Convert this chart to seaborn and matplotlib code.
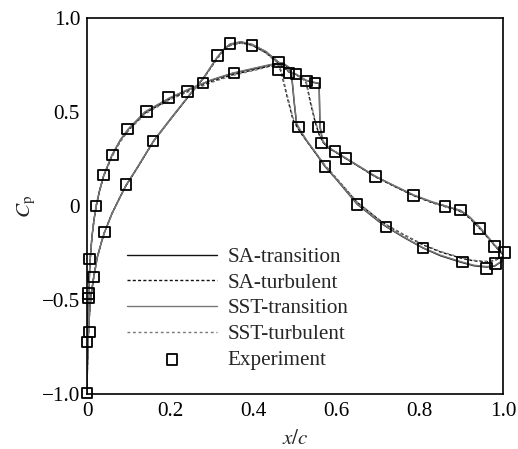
import numpy as np
import pandas as pd
import matplotlib
matplotlib.use("Agg")
import matplotlib.pyplot as plt
import seaborn as sns
from matplotlib.ticker import MultipleLocator, FixedLocator, FuncFormatter

# ---------------- data ----------------
# SA-transition
sa_tr_x1 = [0, 0.0005, 0.002, 0.004, 0.007, 0.012, 0.017, 0.022, 0.03, 0.04, 0.06, 0.08, 0.1, 0.14, 0.2,
            0.25, 0.3, 0.35, 0.4, 0.44, 0.47, 0.485, 0.492, 0.498, 0.504, 0.515, 0.53, 0.55, 0.572, 0.6,
            0.649, 0.7, 0.719, 0.76, 0.808, 0.85, 0.9, 0.93, 0.96, 0.98, 1.0]
sa_tr_cp1 = [-1.0, -0.85, -0.65, -0.47, -0.3, -0.16, -0.07, 0.0, 0.08, 0.16, 0.27, 0.35, 0.41, 0.50, 0.575,
             0.625, 0.67, 0.705, 0.73, 0.75, 0.76, 0.735, 0.69, 0.55, 0.43, 0.39, 0.34, 0.28, 0.21, 0.14,
             0.01, -0.08, -0.11, -0.165, -0.224, -0.265, -0.30, -0.318, -0.325, -0.32, -0.29]
sa_tr_x2 = [0, 0.001, 0.003, 0.006, 0.01, 0.016, 0.025, 0.035, 0.042, 0.06, 0.08, 0.094, 0.12, 0.16, 0.2,
            0.25, 0.28, 0.313, 0.33, 0.344, 0.37, 0.397, 0.43, 0.46, 0.486, 0.502, 0.527, 0.548, 0.558, 0.56,
            0.567, 0.58, 0.595, 0.622, 0.65, 0.693, 0.74, 0.785, 0.83, 0.86, 0.898, 0.92, 0.944, 0.965, 0.98, 1.0]
sa_tr_cp2 = [-1.0, -0.85, -0.7, -0.57, -0.47, -0.38, -0.27, -0.19, -0.14, -0.04, 0.05, 0.11, 0.2, 0.345, 0.46,
             0.6, 0.68, 0.79, 0.835, 0.86, 0.872, 0.858, 0.82, 0.765, 0.715, 0.70, 0.667, 0.655, 0.652, 0.42,
             0.34, 0.31, 0.29, 0.253, 0.215, 0.157, 0.105, 0.057, 0.02, 0.0, -0.025, -0.06, -0.115, -0.17, -0.21, -0.26]

# SA-turbulent
sa_tu_x1 = [0, 0.0005, 0.002, 0.004, 0.007, 0.012, 0.017, 0.022, 0.03, 0.04, 0.06, 0.08, 0.1, 0.14, 0.2,
            0.25, 0.3, 0.35, 0.4, 0.44, 0.46, 0.467, 0.48, 0.495, 0.505, 0.515, 0.53, 0.55, 0.572, 0.6,
            0.649, 0.7, 0.719, 0.76, 0.808, 0.85, 0.9, 0.93, 0.96, 0.98, 1.0]
sa_tu_cp1 = [-1.0, -0.85, -0.65, -0.47, -0.3, -0.16, -0.07, 0.0, 0.08, 0.16, 0.265, 0.345, 0.405, 0.495, 0.57,
             0.617, 0.662, 0.698, 0.724, 0.745, 0.752, 0.71, 0.59, 0.46, 0.42, 0.385, 0.34, 0.28, 0.215, 0.145,
             0.02, -0.07, -0.10, -0.152, -0.207, -0.245, -0.278, -0.292, -0.297, -0.29, -0.27]
sa_tu_x2 = [0, 0.001, 0.003, 0.006, 0.01, 0.016, 0.025, 0.035, 0.042, 0.06, 0.08, 0.094, 0.12, 0.16, 0.2,
            0.25, 0.28, 0.313, 0.33, 0.344, 0.37, 0.397, 0.43, 0.46, 0.486, 0.502, 0.515, 0.527, 0.537, 0.548,
            0.558, 0.567, 0.58, 0.595, 0.622, 0.65, 0.693, 0.74, 0.785, 0.83, 0.86, 0.898, 0.92, 0.944, 0.965, 0.98, 1.0]
sa_tu_cp2 = [-1.0, -0.85, -0.7, -0.57, -0.47, -0.38, -0.27, -0.19, -0.14, -0.04, 0.05, 0.11, 0.2, 0.345, 0.46,
             0.6, 0.68, 0.785, 0.83, 0.855, 0.868, 0.855, 0.815, 0.76, 0.712, 0.698, 0.685, 0.655, 0.55, 0.45,
             0.38, 0.34, 0.31, 0.29, 0.253, 0.215, 0.155, 0.103, 0.055, 0.017, -0.003, -0.03, -0.065, -0.12, -0.172, -0.21, -0.255]

# SST-transition
sst_tr_x1 = sa_tr_x1
sst_tr_cp1 = [-1.0, -0.85, -0.65, -0.47, -0.3, -0.16, -0.07, 0.0, 0.08, 0.162, 0.272, 0.352, 0.412, 0.502, 0.577,
              0.627, 0.672, 0.707, 0.732, 0.752, 0.762, 0.74, 0.70, 0.56, 0.44, 0.395, 0.343, 0.283, 0.213, 0.142,
              0.012, -0.078, -0.108, -0.163, -0.222, -0.262, -0.297, -0.315, -0.322, -0.318, -0.288]
sst_tr_x2 = sa_tr_x2
sst_tr_cp2 = [-1.0, -0.85, -0.7, -0.57, -0.47, -0.38, -0.27, -0.19, -0.14, -0.04, 0.05, 0.112, 0.202, 0.347, 0.462,
              0.602, 0.682, 0.792, 0.837, 0.862, 0.874, 0.86, 0.822, 0.767, 0.717, 0.702, 0.669, 0.657, 0.654, 0.43,
              0.345, 0.313, 0.292, 0.255, 0.217, 0.159, 0.107, 0.059, 0.022, 0.002, -0.023, -0.058, -0.112, -0.167, -0.207, -0.255]

# SST-turbulent
sst_tu_x1 = sa_tu_x1
sst_tu_cp1 = [-1.0, -0.85, -0.65, -0.47, -0.3, -0.16, -0.07, 0.0, 0.08, 0.158, 0.262, 0.342, 0.402, 0.49, 0.566,
              0.613, 0.658, 0.694, 0.72, 0.742, 0.75, 0.72, 0.60, 0.47, 0.425, 0.388, 0.342, 0.282, 0.217, 0.147,
              0.022, -0.068, -0.098, -0.15, -0.205, -0.242, -0.275, -0.289, -0.294, -0.287, -0.268]
sst_tu_x2 = sa_tu_x2
sst_tu_cp2 = [-1.0, -0.85, -0.7, -0.57, -0.47, -0.38, -0.27, -0.19, -0.14, -0.04, 0.05, 0.11, 0.2, 0.343, 0.458,
              0.598, 0.678, 0.783, 0.828, 0.853, 0.866, 0.853, 0.813, 0.758, 0.71, 0.696, 0.683, 0.66, 0.56, 0.46,
              0.385, 0.342, 0.312, 0.292, 0.255, 0.217, 0.157, 0.105, 0.057, 0.019, -0.001, -0.028, -0.062, -0.117, -0.17, -0.208, -0.252]

# Experiment
exp_x = [0.0, 0.0, 0.006, 0.004, 0.003, 0.006, 0.016, 0.022, 0.042, 0.04, 0.061, 0.098, 0.094, 0.143, 0.159,
         0.196, 0.241, 0.279, 0.313, 0.344, 0.353, 0.397, 0.46, 0.46, 0.486, 0.502, 0.527, 0.548, 0.508, 0.556,
         0.564, 0.572, 0.596, 0.623, 0.649, 0.693, 0.719, 0.785, 0.808, 0.861, 0.898, 0.902, 0.944, 0.96, 0.98,
         0.982, 1.004]
exp_cp = [-0.995, -0.724, -0.671, -0.467, -0.49, -0.281, -0.377, 0.0, -0.139, 0.164, 0.272, 0.41, 0.113, 0.504, 0.345,
          0.577, 0.61, 0.655, 0.80, 0.864, 0.708, 0.855, 0.765, 0.726, 0.708, 0.703, 0.664, 0.655, 0.419, 0.419,
          0.336, 0.21, 0.291, 0.253, 0.008, 0.157, -0.111, 0.056, -0.224, -0.004, -0.022, -0.299, -0.12, -0.334, -0.214,
          -0.306, -0.246]

labels = ["SA-transition", "SA-turbulent", "SST-transition", "SST-turbulent", "Experiment"]
x_ticks = [0, 0.2, 0.4, 0.6, 0.8, 1.0]
y_ticks = [-1.0, -0.5, 0, 0.5, 1.0]

# ---------------- style ----------------
sns.set_theme(style="white")
plt.rcParams["font.family"] = ["Liberation Serif", "DejaVu Serif"]
plt.rcParams["mathtext.fontset"] = "stix"
plt.rcParams["axes.unicode_minus"] = True

FS = 15.2
fig = plt.figure(figsize=(5.18, 4.49), dpi=100)
ax = fig.add_axes([0.168, 0.1225, 0.803, 0.8375])

def loop(x1, c1, x2, c2):
    xs = list(x1[::-1]) + list(x2[1:])
    cs = list(c1[::-1]) + list(c2[1:])
    return pd.DataFrame({"x": xs, "cp": cs})

styles = [
    (sa_tr_x1, sa_tr_cp1, sa_tr_x2, sa_tr_cp2, "#111111", None, 1.0),
    (sa_tu_x1, sa_tu_cp1, sa_tu_x2, sa_tu_cp2, "#111111", (2.2, 1.6), 1.0),
    (sst_tr_x1, sst_tr_cp1, sst_tr_x2, sst_tr_cp2, "#777777", None, 1.0),
    (sst_tu_x1, sst_tu_cp1, sst_tu_x2, sst_tu_cp2, "#777777", (2.0, 2.0), 1.0),
]
handles = []
for (x1, c1, x2, c2, col, dash, lw), lab in zip(styles, labels[:4]):
    df = loop(x1, c1, x2, c2)
    n_before = len(ax.lines)
    sns.lineplot(data=df, x="x", y="cp", sort=False, estimator=None, color=col, lw=lw, ax=ax, legend=False)
    ln = ax.lines[n_before]
    if dash is not None:
        ln.set_dashes(dash)
    ln.set_label(lab)
    handles.append(ln)

exp_df = pd.DataFrame({"x": exp_x, "cp": exp_cp})
n_coll = len(ax.collections)
sns.scatterplot(data=exp_df, x="x", y="cp", marker="s", s=58, color="black", ax=ax, legend=False, zorder=5)
sc = ax.collections[n_coll]
sc.set_facecolor("none")
sc.set_edgecolor("black")
sc.set_linewidth(1.3)
sc.set_clip_on(False)
sc.set_label("Experiment")
handles.append(sc)

ax.set_xlim(0, 1.0)
ax.set_ylim(-1.0, 1.0)
ax.xaxis.set_major_locator(FixedLocator(x_ticks))
ax.yaxis.set_major_locator(FixedLocator(y_ticks))
ax.xaxis.set_minor_locator(MultipleLocator(0.02))
ax.yaxis.set_minor_locator(MultipleLocator(0.1))

def fmt(v, pos):
    if abs(v) < 1e-9:
        return "0"
    s = f"{v:.1f}"
    return s.replace("-", "\u2212")

ax.xaxis.set_major_formatter(FuncFormatter(fmt))
ax.yaxis.set_major_formatter(FuncFormatter(fmt))
ax.tick_params(which="both", direction="in", top=False, right=False, labelsize=FS, colors="black")
ax.tick_params(which="major", length=8, width=1.0, pad=6)
ax.tick_params(which="minor", length=5, width=1.0)
ax.tick_params(axis="y", which="major", pad=5)
for sp in ax.spines.values():
    sp.set_color("black")
    sp.set_linewidth(1.2)

ax.set_xlabel("$x/c$", fontsize=FS, labelpad=6)
ax.set_ylabel(r"$C_\mathrm{p}$", fontsize=FS)
ax.yaxis.set_label_coords(-0.118, 0.5)

leg = ax.legend(handles=handles, labels=labels, loc="upper left", bbox_to_anchor=(0.095, 0.39),
                frameon=False, fontsize=FS, handlelength=4.3, handletextpad=0.5, labelspacing=0.28,
                borderpad=0, borderaxespad=0, numpoints=1, scatterpoints=1)

fig.savefig("out.png", dpi=100)
